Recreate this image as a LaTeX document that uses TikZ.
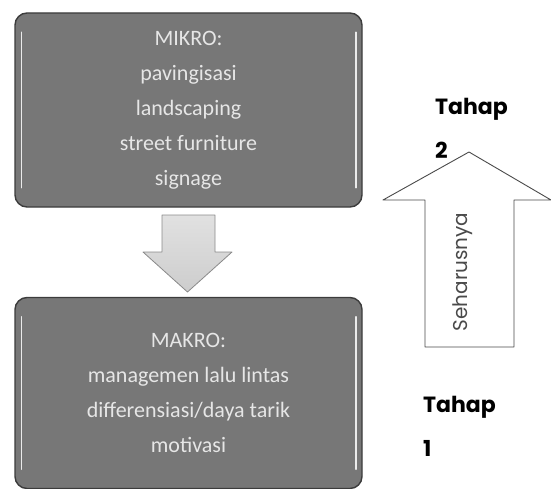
\documentclass[tikz,border=0pt]{standalone}
\usepackage{fontspec}
\setmainfont{Carlito}
\newfontfamily\gothic{Poppins}
\definecolor{Box}{HTML}{777777}
\definecolor{Edge}{HTML}{3C3C3C}
\definecolor{BoxText}{HTML}{E6E6E6}
\definecolor{Shaft}{HTML}{CDCDCD}
\definecolor{Rim}{HTML}{8A8A8A}
\definecolor{Ink}{HTML}{4A4A4A}
\usetikzlibrary{positioning,calc}

\begin{document}
\begin{tikzpicture}[
  x=1pt,y=-1pt,
  box/.style={rounded corners=12pt,draw=Edge,line width=1.4pt,fill=Box,
    minimum width=347pt,align=center,text=BoxText,
    font=\fontsize{22}{35}\selectfont},
  gloss/.style={draw=white!85!Box,line width=1.6pt,line cap=round},
  stage/.style={anchor=north west,inner sep=0pt,align=left,
    font=\gothic\bfseries\fontsize{22}{44}\selectfont},
  downarrow/.style={draw=Rim,line width=.8pt,top color=Shaft!60,bottom color=Shaft,
    line join=round},
  uparrow/.style={draw=Ink,line width=.9pt,fill=white,line join=round}
]
\useasboundingbox (0,0) rectangle (551,489);

% the two levels
\node[box,minimum height=194pt] (mikro) at (188.5,110)
  {MIKRO:\\pavingisasi\\landscaping\\street furniture\\signage};
\node[box,minimum height=191pt] (makro) at (188.5,393)
  {MAKRO:\\managemen lalu lintas\\differensiasi/daya tarik\\motivasi};
\foreach \b in {mikro,makro}{
  \draw[gloss] ($(\b.north west)+(7,20)$) -- ($(\b.south west)+(7,-20)$);
  \draw[gloss] ($(\b.north east)+(-7,20)$) -- ($(\b.south east)+(-7,-20)$);
}

% arrow from micro to macro
\draw[downarrow] (162,215) -- (215,215) -- (215,252) -- (232,252) -- (187.5,292)
  -- (143,252) -- (162,252) -- cycle;

% stages
\draw[uparrow] (425,347) -- (425,200) -- (383,200) -- (469,152) -- (551,200)
  -- (514,200) -- (514,347) -- cycle;
\node[rotate=90,text=Ink,font=\gothic\fontsize{20}{24}\selectfont] (should) at (463,272) {Seharusnya};
\node[stage] (tahap2) at (435,98) {Tahap\\2};
\node[stage] (tahap1) at (423,396) {Tahap\\1};
\end{tikzpicture}
\end{document}
